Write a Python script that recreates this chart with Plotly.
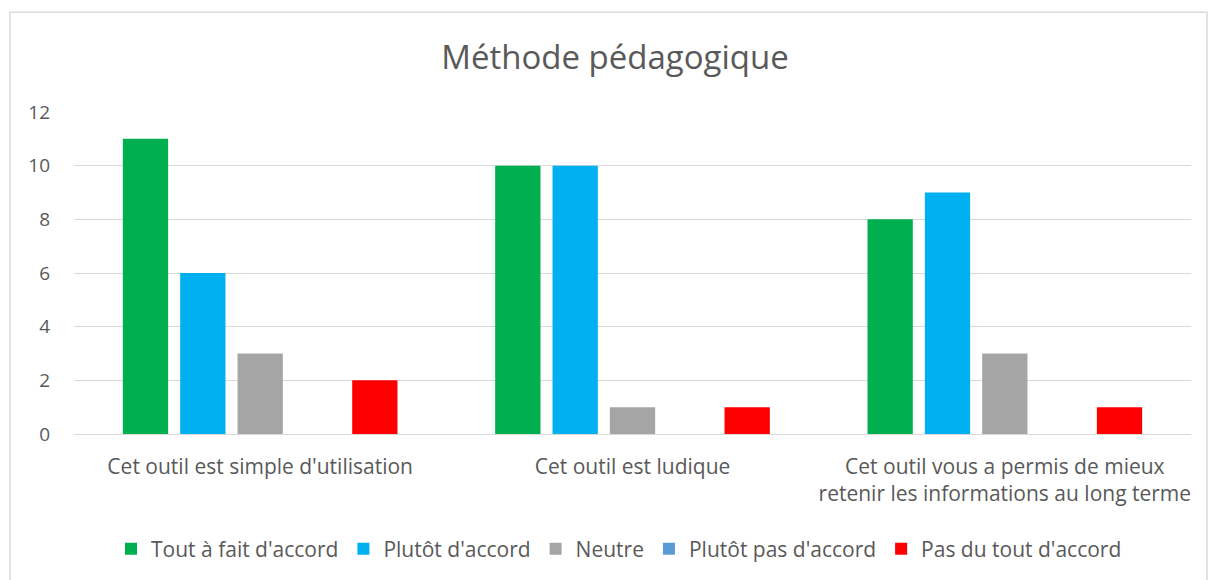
import plotly.graph_objects as go

categories = [
    "Cet outil est simple d'utilisation",
    "Cet outil est ludique",
    "Cet outil vous a permis de mieux<br>retenir les informations au long terme",
]
series_names = [
    "Tout à fait d'accord",
    "Plutôt d'accord",
    "Neutre",
    "Plutôt pas d'accord",
    "Pas du tout d'accord",
]
tout_a_fait = [11, 10, 8]
plutot = [6, 10, 9]
neutre = [3, 1, 3]
plutot_pas = [0, 0, 0]
pas_du_tout = [2, 1, 1]
series_values = [tout_a_fait, plutot, neutre, plutot_pas, pas_du_tout]
colors = ["#00b050", "#00b0f0", "#a5a5a5", "#5b9bd5", "#ff0000"]
y_ticks = [0, 2, 4, 6, 8, 10, 12]

FONT = "Open Sans"
TXT = "#595959"

fig = go.Figure()
for name, vals, col in zip(series_names, series_values, colors):
    fig.add_trace(go.Bar(x=categories, y=vals, name=name, marker_color=col,
                         marker_line_width=0))

W, H = 1209, 580
L, R, T, B = 74, 18, 112, 145
pw, ph = W - L - R, H - T - B

def px_x(p):
    return (p - L) / pw

def px_y(p):
    return (H - B - p) / ph

fig.update_layout(
    width=W, height=H,
    margin=dict(l=L, r=R, t=T, b=B),
    paper_bgcolor="white", plot_bgcolor="white",
    barmode="group", bargap=0.23, bargroupgap=0.21,
    title=dict(text="Méthode pédagogique", x=615 / W, xanchor="center",
               y=1 - 57 / H, yanchor="middle",
               font=dict(family=FONT, size=33, color=TXT)),
    font=dict(family=FONT, size=18, color=TXT),
    legend=dict(orientation="h", x=px_x(619), xanchor="center",
                y=px_y(549), yanchor="middle",
                font=dict(family=FONT, size=21, color=TXT),
                itemwidth=30, tracegroupgap=0),
    xaxis=dict(showgrid=False, showline=False, ticks="",
               tickfont=dict(family=FONT, size=21, color=TXT),
               ticklabelstandoff=18),
    yaxis=dict(range=[0, 12], tickvals=y_ticks, showgrid=True,
               gridcolor="#d9d9d9", gridwidth=1, zeroline=True,
               zerolinecolor="#d9d9d9", zerolinewidth=1, showline=False,
               tickfont=dict(family=FONT, size=19, color=TXT),
               ticklabelstandoff=23),
    shapes=[dict(type="rect", xref="paper", yref="paper",
                 x0=px_x(10), x1=px_x(1207), y0=px_y(600), y1=px_y(12),
                 line=dict(color="#d9d9d9", width=1.5), layer="below")],
)

fig.write_html("out.html", config={"displayModeBar": False},
               post_script="document.body.style.margin='0';document.body.style.padding='0';")
